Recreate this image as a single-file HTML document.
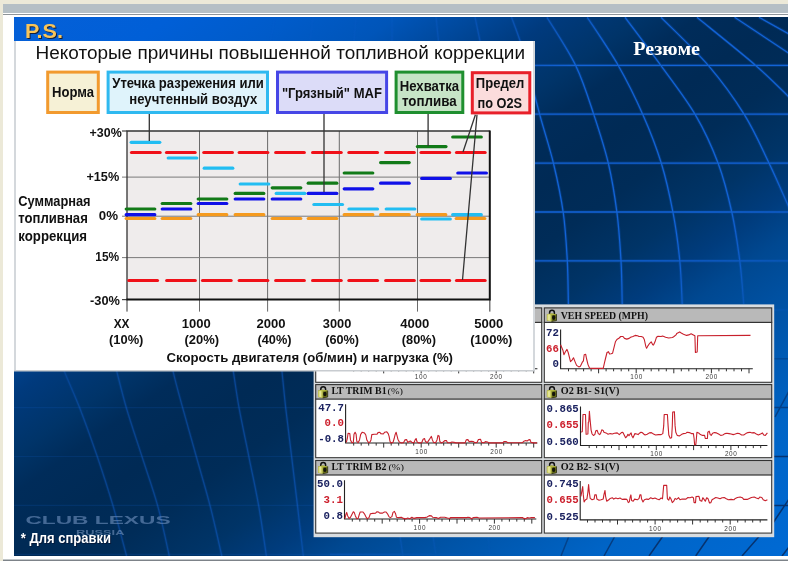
<!DOCTYPE html>
<html lang="ru"><head><meta charset="utf-8"><title>P.S.</title>
<style>html,body{margin:0;padding:0;background:#ece9d8;overflow:hidden}body{width:788px;height:561px;position:relative}</style></head>
<body>
<svg width="788" height="561" viewBox="0 0 788 561" style="position:absolute;left:0;top:0">
<rect x="0" y="0" width="788" height="561" fill="#ece9d8"/>
<rect x="3" y="4" width="785" height="9" fill="#b5bfc5"/>
<rect x="3" y="13" width="785" height="548" fill="#ffffff"/>
<rect x="3" y="14" width="785" height="1" fill="#8e9499"/>
<rect x="3" y="559" width="785" height="1" fill="#c0c5c8"/>
<rect x="3" y="560" width="785" height="1" fill="#7d8389"/>
<defs>
<linearGradient id="bg" gradientUnits="userSpaceOnUse" x1="14" y1="17" x2="519.2" y2="742.4"><stop offset="0.0000" stop-color="#0560d8"/><stop offset="0.1018" stop-color="#005fd7"/><stop offset="0.1810" stop-color="#005bc9"/><stop offset="0.2477" stop-color="#0055b9"/><stop offset="0.2998" stop-color="#00489b"/><stop offset="0.3507" stop-color="#003a7d"/><stop offset="0.4061" stop-color="#003469"/><stop offset="0.4423" stop-color="#002c5a"/><stop offset="0.4977" stop-color="#002a55"/><stop offset="0.5543" stop-color="#002c58"/><stop offset="0.6165" stop-color="#003467"/><stop offset="0.6640" stop-color="#003c7d"/><stop offset="0.7036" stop-color="#004891"/><stop offset="0.7805" stop-color="#0055aa"/><stop offset="0.8744" stop-color="#0064c6"/><stop offset="0.9842" stop-color="#0069d2"/><stop offset="1.0000" stop-color="#006ad4"/></linearGradient>
<linearGradient id="lm" gradientUnits="userSpaceOnUse" x1="14" y1="17" x2="519.2" y2="742.4"><stop offset="0.0000" stop-color="#fff" stop-opacity="0.1"/><stop offset="0.2262" stop-color="#fff" stop-opacity="0.15"/><stop offset="0.3394" stop-color="#fff" stop-opacity="0.6"/><stop offset="0.4072" stop-color="#fff" stop-opacity="1"/><stop offset="0.6335" stop-color="#fff" stop-opacity="1"/><stop offset="0.7014" stop-color="#fff" stop-opacity="0.75"/><stop offset="0.7692" stop-color="#fff" stop-opacity="0.2"/><stop offset="0.8145" stop-color="#fff" stop-opacity="0"/><stop offset="1.0000" stop-color="#fff" stop-opacity="0"/></linearGradient>
<linearGradient id="dm" gradientUnits="userSpaceOnUse" x1="14" y1="17" x2="519.2" y2="742.4"><stop offset="0.0000" stop-color="#fff" stop-opacity="0"/><stop offset="0.7692" stop-color="#fff" stop-opacity="0"/><stop offset="0.8371" stop-color="#fff" stop-opacity="0.6"/><stop offset="0.9050" stop-color="#fff" stop-opacity="1"/><stop offset="1.0000" stop-color="#fff" stop-opacity="1"/></linearGradient>
<linearGradient id="lf" gradientUnits="userSpaceOnUse" x1="14" x2="540" y1="0" y2="0"><stop offset="0" stop-color="#fff" stop-opacity="0.4"/><stop offset="0.55" stop-color="#fff" stop-opacity="0.5"/><stop offset="1" stop-color="#fff" stop-opacity="1"/></linearGradient>
<mask id="mk1" maskUnits="userSpaceOnUse" x="0" y="0" width="788" height="561"><rect x="0" y="0" width="788" height="561" fill="url(#lm)"/></mask>
<mask id="mk2" maskUnits="userSpaceOnUse" x="0" y="0" width="788" height="561"><rect x="0" y="0" width="788" height="561" fill="url(#lf)"/></mask>
<mask id="mk3" maskUnits="userSpaceOnUse" x="0" y="0" width="788" height="561"><rect x="0" y="0" width="788" height="561" fill="url(#dm)"/></mask>
<linearGradient id="ll" gradientUnits="userSpaceOnUse" x1="14" x2="314" y1="0" y2="0"><stop offset="0" stop-color="#1a55b0" stop-opacity="0.3"/><stop offset="0.6" stop-color="#1a55b0" stop-opacity="0.2"/><stop offset="1" stop-color="#1a55b0" stop-opacity="0"/></linearGradient>
<clipPath id="slide"><rect x="14" y="17" width="774" height="539"/></clipPath>
<linearGradient id="tb" x1="0" x2="1" y1="0" y2="0">
<stop offset="0" stop-color="#0a5ed2"/><stop offset="0.5" stop-color="#0a5bcc"/><stop offset="0.7" stop-color="#0a56c4" stop-opacity="0.95"/><stop offset="0.82" stop-color="#0a4cb0" stop-opacity="0.7"/><stop offset="0.93" stop-color="#083f94" stop-opacity="0.3"/><stop offset="1" stop-color="#002a5c" stop-opacity="0"/>
</linearGradient>
</defs>
<rect x="14" y="17" width="774" height="539" fill="url(#bg)"/>
<g clip-path="url(#slide)"><path d="M14 65.3H330M14 114.2H330M14 163.1H330M14 212.0H330M14 260.9H330M14 309.8H330M14 358.7H330M14 407.6H330M14 456.5H330M14 505.4H330M14 554.3H330" fill="none" stroke="#1263d6" stroke-width="1.2" opacity="0.16"/><g mask="url(#mk2)"><g mask="url(#mk1)"><path d="M330 65.3H788M330 114.2H788M330 163.1H788M330 212.0H788M330 260.9H788M330 309.8H788M330 358.7H788M330 407.6H788M330 456.5H788M330 505.4H788M330 554.3H788M511.4 17.0C512.8 20.9 517.4 32.6 520.0 40.7C522.6 48.8 523.7 53.3 527.0 65.7C530.3 78.1 535.4 98.6 539.8 114.9C544.2 131.2 549.6 147.2 553.5 163.5C557.4 179.8 561.0 196.8 563.3 213.0C565.6 229.2 566.4 245.6 567.3 260.8C568.1 276.0 568.2 296.8 568.4 304.0M547.0 17.3C551.8 25.4 568.0 49.4 575.8 65.7C583.6 82.0 588.5 98.6 593.9 114.9C599.3 131.2 604.5 147.2 608.4 163.5C612.2 179.8 614.9 196.8 617.0 213.0C619.1 229.2 620.1 245.6 621.0 260.8C621.9 276.0 622.0 296.8 622.2 304.0M587.3 17.3C592.5 25.4 609.1 49.4 618.4 65.7C627.7 82.0 635.8 98.6 643.0 114.9C650.2 131.2 656.4 147.2 661.4 163.5C666.4 179.8 670.0 196.8 673.1 213.0C676.2 229.2 678.3 245.6 679.8 260.8C681.3 276.0 681.8 296.8 682.2 304.0M625.0 17.3C631.0 25.4 649.3 49.4 661.0 65.7C672.7 82.0 685.9 98.6 695.4 114.9C704.9 131.2 712.1 147.2 718.2 163.5C724.3 179.8 728.4 196.8 732.0 213.0C735.6 229.2 737.8 245.6 739.8 260.8C741.8 276.0 743.1 296.8 743.7 304.0M661.0 17.3C668.9 25.4 694.6 49.4 708.5 65.7C722.4 82.0 734.4 98.6 744.5 114.9C754.6 131.2 761.6 147.7 769.2 163.5C776.8 179.3 786.5 202.2 790.0 210.0M697.0 17.3C706.8 25.4 740.5 52.2 756.0 65.7C771.5 79.2 784.3 92.6 790.0 98.0M734.6 17.3 L790.0 54.0M759.0 17.3 L790.0 34.5M475.0 17.0 L480.0 41.0M436.0 17.0 L438.5 41.0M392.0 17.0 L392.0 41.0M356.0 17.0 L354.0 41.0M313.0 17.0 L310.0 41.0M275.0 17.0 L270.5 41.0M50.0 335.0C52.4 341.1 59.5 359.5 64.5 371.8C69.5 384.1 74.5 394.4 80.0 408.7C85.5 422.9 92.0 441.1 97.5 457.3C103.0 473.5 108.2 489.4 113.0 505.8C117.8 522.2 124.3 547.6 126.6 556.0M108.0 335.0C109.5 341.1 113.8 359.5 116.9 371.8C120.0 384.1 122.4 394.4 126.6 408.7C130.8 422.9 137.0 441.1 142.2 457.3C147.4 473.5 153.2 489.4 157.7 505.8C162.2 522.2 167.4 547.6 169.3 556.0M166.0 335.0C167.2 341.1 170.4 359.5 173.2 371.8C176.0 384.1 179.0 394.4 182.9 408.7C186.8 422.9 192.0 441.1 196.5 457.3C201.0 473.5 205.9 489.4 210.1 505.8C214.3 522.2 219.9 547.6 221.8 556.0M228.0 335.0C228.9 341.1 231.5 359.5 233.4 371.8C235.3 384.1 236.6 394.4 239.2 408.7C241.8 422.9 245.8 441.1 249.0 457.3C252.2 473.5 255.8 489.4 258.7 505.8C261.6 522.2 265.1 547.6 266.4 556.0M278.0 335.0C278.7 341.1 280.7 359.5 282.0 371.8C283.3 384.1 284.2 394.4 285.8 408.7C287.4 422.9 289.8 441.1 291.7 457.3C293.6 473.5 295.6 489.4 297.5 505.8C299.4 522.2 302.3 547.6 303.3 556.0M400.0 536.0 L403.0 556.0M433.0 536.0 L436.0 556.0M488.0 536.0 L490.0 556.0M535.0 536.0 L534.0 556.0" fill="none" stroke="#1466dc" stroke-width="3.2" opacity="0.22"/><path d="M330 65.3H788M330 114.2H788M330 163.1H788M330 212.0H788M330 260.9H788M330 309.8H788M330 358.7H788M330 407.6H788M330 456.5H788M330 505.4H788M330 554.3H788M511.4 17.0C512.8 20.9 517.4 32.6 520.0 40.7C522.6 48.8 523.7 53.3 527.0 65.7C530.3 78.1 535.4 98.6 539.8 114.9C544.2 131.2 549.6 147.2 553.5 163.5C557.4 179.8 561.0 196.8 563.3 213.0C565.6 229.2 566.4 245.6 567.3 260.8C568.1 276.0 568.2 296.8 568.4 304.0M547.0 17.3C551.8 25.4 568.0 49.4 575.8 65.7C583.6 82.0 588.5 98.6 593.9 114.9C599.3 131.2 604.5 147.2 608.4 163.5C612.2 179.8 614.9 196.8 617.0 213.0C619.1 229.2 620.1 245.6 621.0 260.8C621.9 276.0 622.0 296.8 622.2 304.0M587.3 17.3C592.5 25.4 609.1 49.4 618.4 65.7C627.7 82.0 635.8 98.6 643.0 114.9C650.2 131.2 656.4 147.2 661.4 163.5C666.4 179.8 670.0 196.8 673.1 213.0C676.2 229.2 678.3 245.6 679.8 260.8C681.3 276.0 681.8 296.8 682.2 304.0M625.0 17.3C631.0 25.4 649.3 49.4 661.0 65.7C672.7 82.0 685.9 98.6 695.4 114.9C704.9 131.2 712.1 147.2 718.2 163.5C724.3 179.8 728.4 196.8 732.0 213.0C735.6 229.2 737.8 245.6 739.8 260.8C741.8 276.0 743.1 296.8 743.7 304.0M661.0 17.3C668.9 25.4 694.6 49.4 708.5 65.7C722.4 82.0 734.4 98.6 744.5 114.9C754.6 131.2 761.6 147.7 769.2 163.5C776.8 179.3 786.5 202.2 790.0 210.0M697.0 17.3C706.8 25.4 740.5 52.2 756.0 65.7C771.5 79.2 784.3 92.6 790.0 98.0M734.6 17.3 L790.0 54.0M759.0 17.3 L790.0 34.5M475.0 17.0 L480.0 41.0M436.0 17.0 L438.5 41.0M392.0 17.0 L392.0 41.0M356.0 17.0 L354.0 41.0M313.0 17.0 L310.0 41.0M275.0 17.0 L270.5 41.0M50.0 335.0C52.4 341.1 59.5 359.5 64.5 371.8C69.5 384.1 74.5 394.4 80.0 408.7C85.5 422.9 92.0 441.1 97.5 457.3C103.0 473.5 108.2 489.4 113.0 505.8C117.8 522.2 124.3 547.6 126.6 556.0M108.0 335.0C109.5 341.1 113.8 359.5 116.9 371.8C120.0 384.1 122.4 394.4 126.6 408.7C130.8 422.9 137.0 441.1 142.2 457.3C147.4 473.5 153.2 489.4 157.7 505.8C162.2 522.2 167.4 547.6 169.3 556.0M166.0 335.0C167.2 341.1 170.4 359.5 173.2 371.8C176.0 384.1 179.0 394.4 182.9 408.7C186.8 422.9 192.0 441.1 196.5 457.3C201.0 473.5 205.9 489.4 210.1 505.8C214.3 522.2 219.9 547.6 221.8 556.0M228.0 335.0C228.9 341.1 231.5 359.5 233.4 371.8C235.3 384.1 236.6 394.4 239.2 408.7C241.8 422.9 245.8 441.1 249.0 457.3C252.2 473.5 255.8 489.4 258.7 505.8C261.6 522.2 265.1 547.6 266.4 556.0M278.0 335.0C278.7 341.1 280.7 359.5 282.0 371.8C283.3 384.1 284.2 394.4 285.8 408.7C287.4 422.9 289.8 441.1 291.7 457.3C293.6 473.5 295.6 489.4 297.5 505.8C299.4 522.2 302.3 547.6 303.3 556.0M400.0 536.0 L403.0 556.0M433.0 536.0 L436.0 556.0M488.0 536.0 L490.0 556.0M535.0 536.0 L534.0 556.0" fill="none" stroke="#1263d6" stroke-width="1.3"/></g></g>
<g mask="url(#mk3)"><path d="M500 65.3H788M500 114.2H788M500 163.1H788M500 212.0H788M500 260.9H788M500 309.8H788M500 358.7H788M500 407.6H788M500 456.5H788M500 505.4H788M569.0 536.0 L561.0 556.0M615.0 536.0 L604.0 556.0M663.0 536.0 L649.0 556.0M709.5 536.0 L695.7 556.0M759.5 536.0 L742.0 556.0M789.0 547.0 L782.0 556.0M789.0 391.0 L775.0 417.0M789.0 499.0 L773.0 523.0" fill="none" stroke="#06336f" stroke-width="1.5"/></g></g>
<text x="25.9" y="38.9" font-family='"Liberation Sans", sans-serif' font-size="20.5" font-weight="bold" fill="#15203a" textLength="38.0" lengthAdjust="spacingAndGlyphs" >P.S.</text>
<text x="24.9" y="37.8" font-family='"Liberation Sans", sans-serif' font-size="20.5" font-weight="bold" fill="#f8c45a" textLength="38.0" lengthAdjust="spacingAndGlyphs" >P.S.</text>
<text x="633.3" y="55.4" font-family='"Liberation Serif", serif' font-size="19" font-weight="bold" fill="#ffffff" textLength="66.7" lengthAdjust="spacingAndGlyphs" >Резюме</text>
<rect x="313.6" y="304.4" width="460.6" height="232.8" fill="#d9dde0"/>
<rect x="315.2" y="307.4" width="227.00000000000006" height="75.40000000000003" fill="#ffffff"/>
<rect x="315.2" y="307.4" width="227.00000000000006" height="15" fill="#b9b9b9"/>
<rect x="315.2" y="321.79999999999995" width="227.00000000000006" height="1.2" fill="#333"/>
<rect x="315.7" y="307.9" width="226.00000000000006" height="74.40000000000003" fill="none" stroke="#333" stroke-width="1.1"/>
<rect x="315.2" y="384.1" width="227.00000000000006" height="74.09999999999997" fill="#ffffff"/>
<rect x="315.2" y="384.1" width="227.00000000000006" height="15" fill="#b9b9b9"/>
<rect x="315.2" y="398.5" width="227.00000000000006" height="1.2" fill="#333"/>
<rect x="315.7" y="384.6" width="226.00000000000006" height="73.09999999999997" fill="none" stroke="#333" stroke-width="1.1"/>
<rect x="315.2" y="460" width="227.00000000000006" height="73.60000000000002" fill="#ffffff"/>
<rect x="315.2" y="460" width="227.00000000000006" height="15" fill="#b9b9b9"/>
<rect x="315.2" y="474.4" width="227.00000000000006" height="1.2" fill="#333"/>
<rect x="315.7" y="460.5" width="226.00000000000006" height="72.60000000000002" fill="none" stroke="#333" stroke-width="1.1"/>
<rect x="543.8" y="307.4" width="228.4000000000001" height="75.40000000000003" fill="#ffffff"/>
<rect x="543.8" y="307.4" width="228.4000000000001" height="15" fill="#b9b9b9"/>
<rect x="543.8" y="321.79999999999995" width="228.4000000000001" height="1.2" fill="#333"/>
<rect x="544.3" y="307.9" width="227.4000000000001" height="74.40000000000003" fill="none" stroke="#333" stroke-width="1.1"/>
<rect x="543.8" y="384.1" width="228.4000000000001" height="74.09999999999997" fill="#ffffff"/>
<rect x="543.8" y="384.1" width="228.4000000000001" height="15" fill="#b9b9b9"/>
<rect x="543.8" y="398.5" width="228.4000000000001" height="1.2" fill="#333"/>
<rect x="544.3" y="384.6" width="227.4000000000001" height="73.09999999999997" fill="none" stroke="#333" stroke-width="1.1"/>
<rect x="543.8" y="460" width="228.4000000000001" height="73.60000000000002" fill="#ffffff"/>
<rect x="543.8" y="460" width="228.4000000000001" height="15" fill="#b9b9b9"/>
<rect x="543.8" y="474.4" width="228.4000000000001" height="1.2" fill="#333"/>
<rect x="544.3" y="460.5" width="227.4000000000001" height="72.60000000000002" fill="none" stroke="#333" stroke-width="1.1"/>
<path d="M345.6 330V368.8H537.4" fill="none" stroke="#222" stroke-width="1.1"/><path d="M353.7 368.8v2.6M361.2 368.8v2.6M368.7 368.8v2.6M376.2 368.8v2.6M383.7 368.8v4.6M391.2 368.8v2.6M398.7 368.8v2.6M406.2 368.8v2.6M413.7 368.8v2.6M421.2 368.8v4.6M428.7 368.8v2.6M436.2 368.8v2.6M443.7 368.8v2.6M451.2 368.8v2.6M458.7 368.8v4.6M466.2 368.8v2.6M473.7 368.8v2.6M481.2 368.8v2.6M488.7 368.8v2.6M496.2 368.8v4.6M503.7 368.8v2.6M511.2 368.8v2.6M518.7 368.8v2.6M526.2 368.8v2.6M533.7 368.8v4.6" stroke="#333" stroke-width="1" fill="none"/>
<text x="420.7" y="379.3" text-anchor="middle" font-family='"Liberation Sans", sans-serif' font-size="6.4" fill="#3a3a3a" textLength="12" lengthAdjust="spacing">100</text>
<text x="496.0" y="379.3" text-anchor="middle" font-family='"Liberation Sans", sans-serif' font-size="6.4" fill="#3a3a3a" textLength="12" lengthAdjust="spacing">200</text>
<g transform="translate(546.9,309.6)"><path d="M2.7 5V3.2a2.4 2.5 0 0 1 4.8 0V5" fill="none" stroke="#111" stroke-width="1.5"/><path d="M0 4.6L4.6 3.8L9.6 4.6V11L4.6 11.9L0 11Z" fill="#6c7218"/><path d="M0 4.6L4.6 3.8V11.9L0 11Z" fill="#cccd62"/><path d="M1.2 5.2L3 4.9V11L1.2 10.7Z" fill="#e6e79a"/><path d="M4.6 3.8L9.6 4.6L6.2 5.6L2.4 4.9Z" fill="#b4b840"/><ellipse cx="6.8" cy="8" rx="1.7" ry="2.3" fill="#14140a"/><path d="M4.6 11.9L9.6 11V4.6" fill="none" stroke="#2a2a10" stroke-width="0.8"/></g>
<text x="560.8" y="318.6" font-family='"Liberation Serif", serif' font-size="10.4" font-weight="bold" fill="#111" textLength="87.1" lengthAdjust="spacingAndGlyphs" >VEH SPEED (MPH)</text>
<g transform="translate(318.1,386.0)"><path d="M2.7 5V3.2a2.4 2.5 0 0 1 4.8 0V5" fill="none" stroke="#111" stroke-width="1.5"/><path d="M0 4.6L4.6 3.8L9.6 4.6V11L4.6 11.9L0 11Z" fill="#6c7218"/><path d="M0 4.6L4.6 3.8V11.9L0 11Z" fill="#cccd62"/><path d="M1.2 5.2L3 4.9V11L1.2 10.7Z" fill="#e6e79a"/><path d="M4.6 3.8L9.6 4.6L6.2 5.6L2.4 4.9Z" fill="#b4b840"/><ellipse cx="6.8" cy="8" rx="1.7" ry="2.3" fill="#14140a"/><path d="M4.6 11.9L9.6 11V4.6" fill="none" stroke="#2a2a10" stroke-width="0.8"/></g>
<text x="331.4" y="393.8" font-family='"Liberation Serif", serif' font-size="10.4" font-weight="bold" fill="#111" textLength="55.2" lengthAdjust="spacingAndGlyphs" >LT TRIM B1</text>
<text x="387.6" y="393.8" font-family='"Liberation Serif", serif' font-size="9" font-weight="normal" fill="#111" textLength="15.4" lengthAdjust="spacingAndGlyphs" >(%)</text>
<g transform="translate(546.9,386.0)"><path d="M2.7 5V3.2a2.4 2.5 0 0 1 4.8 0V5" fill="none" stroke="#111" stroke-width="1.5"/><path d="M0 4.6L4.6 3.8L9.6 4.6V11L4.6 11.9L0 11Z" fill="#6c7218"/><path d="M0 4.6L4.6 3.8V11.9L0 11Z" fill="#cccd62"/><path d="M1.2 5.2L3 4.9V11L1.2 10.7Z" fill="#e6e79a"/><path d="M4.6 3.8L9.6 4.6L6.2 5.6L2.4 4.9Z" fill="#b4b840"/><ellipse cx="6.8" cy="8" rx="1.7" ry="2.3" fill="#14140a"/><path d="M4.6 11.9L9.6 11V4.6" fill="none" stroke="#2a2a10" stroke-width="0.8"/></g>
<text x="560.8" y="393.8" font-family='"Liberation Serif", serif' font-size="10.4" font-weight="bold" fill="#111" textLength="58.5" lengthAdjust="spacingAndGlyphs" >O2 B1- S1(V)</text>
<g transform="translate(318.1,461.8)"><path d="M2.7 5V3.2a2.4 2.5 0 0 1 4.8 0V5" fill="none" stroke="#111" stroke-width="1.5"/><path d="M0 4.6L4.6 3.8L9.6 4.6V11L4.6 11.9L0 11Z" fill="#6c7218"/><path d="M0 4.6L4.6 3.8V11.9L0 11Z" fill="#cccd62"/><path d="M1.2 5.2L3 4.9V11L1.2 10.7Z" fill="#e6e79a"/><path d="M4.6 3.8L9.6 4.6L6.2 5.6L2.4 4.9Z" fill="#b4b840"/><ellipse cx="6.8" cy="8" rx="1.7" ry="2.3" fill="#14140a"/><path d="M4.6 11.9L9.6 11V4.6" fill="none" stroke="#2a2a10" stroke-width="0.8"/></g>
<text x="331.6" y="469.7" font-family='"Liberation Serif", serif' font-size="10.4" font-weight="bold" fill="#111" textLength="54.8" lengthAdjust="spacingAndGlyphs" >LT TRIM B2</text>
<text x="388.4" y="469.7" font-family='"Liberation Serif", serif' font-size="9" font-weight="normal" fill="#111" textLength="15.6" lengthAdjust="spacingAndGlyphs" >(%)</text>
<g transform="translate(546.9,461.8)"><path d="M2.7 5V3.2a2.4 2.5 0 0 1 4.8 0V5" fill="none" stroke="#111" stroke-width="1.5"/><path d="M0 4.6L4.6 3.8L9.6 4.6V11L4.6 11.9L0 11Z" fill="#6c7218"/><path d="M0 4.6L4.6 3.8V11.9L0 11Z" fill="#cccd62"/><path d="M1.2 5.2L3 4.9V11L1.2 10.7Z" fill="#e6e79a"/><path d="M4.6 3.8L9.6 4.6L6.2 5.6L2.4 4.9Z" fill="#b4b840"/><ellipse cx="6.8" cy="8" rx="1.7" ry="2.3" fill="#14140a"/><path d="M4.6 11.9L9.6 11V4.6" fill="none" stroke="#2a2a10" stroke-width="0.8"/></g>
<text x="560.8" y="469.7" font-family='"Liberation Serif", serif' font-size="10.4" font-weight="bold" fill="#111" textLength="58.5" lengthAdjust="spacingAndGlyphs" >O2 B2- S1(V)</text>
<path d="M560.6 329.6V368.7H752.8" fill="none" stroke="#222" stroke-width="1.1"/>
<path d="M568.5 368.7v2.6M576.0 368.7v2.6M583.6 368.7v2.6M591.1 368.7v2.6M598.6 368.7v4.6M606.1 368.7v2.6M613.6 368.7v2.6M621.2 368.7v2.6M628.7 368.7v2.6M636.2 368.7v4.6M643.7 368.7v2.6M651.2 368.7v2.6M658.8 368.7v2.6M666.3 368.7v2.6M673.8 368.7v4.6M681.3 368.7v2.6M688.8 368.7v2.6M696.4 368.7v2.6M703.9 368.7v2.6M711.4 368.7v4.6M718.9 368.7v2.6M726.4 368.7v2.6M734.0 368.7v2.6M741.5 368.7v2.6M749.0 368.7v4.6" stroke="#333" stroke-width="1" fill="none"/>
<text x="636.2" y="379.3" text-anchor="middle" font-family='"Liberation Sans", sans-serif' font-size="6.4" fill="#3a3a3a" textLength="12" lengthAdjust="spacing">100</text>
<text x="711.4" y="379.3" text-anchor="middle" font-family='"Liberation Sans", sans-serif' font-size="6.4" fill="#3a3a3a" textLength="12" lengthAdjust="spacing">200</text>
<text x="546.1" y="336.4" font-family='"Liberation Mono", monospace' font-size="10.8" font-weight="bold" fill="#1b2260" textLength="12.9" lengthAdjust="spacingAndGlyphs">72</text>
<text x="546.1" y="351.8" font-family='"Liberation Mono", monospace' font-size="10.8" font-weight="bold" fill="#cc1f2c" textLength="12.9" lengthAdjust="spacingAndGlyphs">66</text>
<text x="552.5" y="367.0" font-family='"Liberation Mono", monospace' font-size="10.8" font-weight="bold" fill="#1b2260" textLength="6.5" lengthAdjust="spacingAndGlyphs">0</text>
<polyline points="560.6,344.8 562.9,350.2 563.9,354.7 565.4,351.7 567.0,349.4 568.2,352.5 570.5,361.6 572.0,360.1 573.5,357.8 575.0,361.6 576.6,365.4 578.8,366.9 580.4,366.2 582.2,362.4 583.4,360.8 584.2,354.7 585.7,354.3 586.5,358.5 588.0,364.6 589.5,368.0 591.8,368.4 603.2,368.4 604.4,363.1 605.5,358.5 607.0,352.5 608.5,351.7 609.6,354.0 611.1,353.7 612.6,353.2 613.9,347.9 615.4,341.8 616.9,339.5 619.2,338.0 620.7,336.5 623.0,336.5 624.5,338.4 626.8,339.1 629.1,338.4 630.6,337.2 632.9,336.5 635.2,335.4 637.5,335.7 639.0,336.5 641.3,336.5 643.1,337.2 644.3,339.5 645.8,346.4 646.6,348.2 648.1,345.6 649.7,343.3 651.2,341.8 652.7,344.8 653.5,345.1 655.0,341.8 656.5,337.2 658.0,336.2 661.1,336.5 662.6,336.0 665.6,337.2 668.7,338.0 672.5,337.5 674.0,336.5 676.0,334.9 676.7,333.4 679.7,331.9 681.2,333.0 683.5,334.2 686.6,335.4 688.8,334.9 691.1,333.7 693.4,334.9 694.9,335.7 695.4,352.5 697.2,352.0 697.7,335.7 750.5,335.4" fill="none" stroke="#c8202c" stroke-width="1.1" stroke-linejoin="round"/>
<path d="M580.5 406.4V445.5H767.4" fill="none" stroke="#222" stroke-width="1.1"/>
<path d="M589.2 445.5v2.6M596.6 445.5v2.6M604.1 445.5v2.6M611.5 445.5v2.6M619.0 445.5v4.6M626.5 445.5v2.6M633.9 445.5v2.6M641.4 445.5v2.6M648.8 445.5v2.6M656.3 445.5v4.6M663.8 445.5v2.6M671.2 445.5v2.6M678.7 445.5v2.6M686.1 445.5v2.6M693.6 445.5v4.6M701.1 445.5v2.6M708.5 445.5v2.6M716.0 445.5v2.6M723.4 445.5v2.6M730.9 445.5v4.6M738.4 445.5v2.6M745.8 445.5v2.6M753.3 445.5v2.6M760.7 445.5v2.6" stroke="#333" stroke-width="1" fill="none"/>
<text x="656.3" y="455.9" text-anchor="middle" font-family='"Liberation Sans", sans-serif' font-size="6.4" fill="#3a3a3a" textLength="12" lengthAdjust="spacing">100</text>
<text x="730.9" y="455.9" text-anchor="middle" font-family='"Liberation Sans", sans-serif' font-size="6.4" fill="#3a3a3a" textLength="12" lengthAdjust="spacing">200</text>
<text x="546.6" y="412.0" font-family='"Liberation Mono", monospace' font-size="10.8" font-weight="bold" fill="#1b2260" textLength="32.2" lengthAdjust="spacingAndGlyphs">0.865</text>
<text x="546.6" y="428.0" font-family='"Liberation Mono", monospace' font-size="10.8" font-weight="bold" fill="#cc1f2c" textLength="32.2" lengthAdjust="spacingAndGlyphs">0.655</text>
<text x="546.6" y="444.5" font-family='"Liberation Mono", monospace' font-size="10.8" font-weight="bold" fill="#1b2260" textLength="32.2" lengthAdjust="spacingAndGlyphs">0.560</text>
<polyline points="581.3,432.2 582.3,431.5 583.0,414.5 585.5,414.5 586.1,434.3 587.9,434.0 588.3,422.4 588.8,421.7 589.4,411.3 590.0,418.9 591.1,430.1 592.1,434.0 593.4,435.4 594.8,434.6 595.8,430.8 597.2,430.4 598.3,433.6 599.7,434.6 600.8,432.9 601.8,429.8 603.2,430.4 603.9,432.2 606.0,432.9 608.1,434.3 610.2,433.6 612.3,434.0 614.4,433.2 617.2,432.9 619.3,434.6 621.4,432.6 622.8,432.2 624.2,435.0 625.6,437.8 626.9,436.4 627.9,434.3 629.0,435.7 630.4,433.6 631.1,432.9 631.8,435.7 633.0,437.8 633.9,435.7 634.9,433.6 636.7,434.0 638.1,434.6 639.5,433.2 640.9,432.2 642.3,432.6 643.7,434.0 645.1,435.0 647.2,434.3 649.3,432.9 651.4,432.6 653.5,434.0 655.6,435.0 658.4,434.6 661.1,434.6 662.8,433.6 663.7,425.9 664.2,414.5 667.4,414.5 668.1,425.9 668.8,435.0 670.2,438.2 671.6,437.8 672.3,425.9 672.7,412.0 674.4,411.7 675.1,425.9 675.8,432.2 677.2,435.4 679.3,436.0 681.4,434.6 683.5,433.6 686.0,433.2 687.2,432.2 689.3,432.6 691.4,433.6 693.4,433.6 694.1,438.5 694.6,444.8 695.8,444.8 696.4,438.5 696.9,432.2 698.6,432.9 700.4,434.6 702.5,435.4 704.6,435.4 705.3,438.5 707.4,438.5 707.8,432.2 709.2,431.2 710.2,434.6 711.2,435.4 712.6,433.2 714.4,432.6 716.5,432.9 718.6,434.0 720.7,435.4 722.8,435.0 724.9,433.6 726.9,433.2 729.0,433.6 731.1,434.0 733.2,434.6 735.3,434.0 737.4,433.2 739.5,433.6 741.6,435.0 743.7,435.0 745.8,433.6 747.9,432.6 750.0,432.2 752.1,432.9 754.2,432.6 756.3,434.0 758.4,435.0 760.5,434.0 762.5,432.9 763.7,435.0 765.3,435.4 767.4,432.9" fill="none" stroke="#c8202c" stroke-width="1.1" stroke-linejoin="round"/>
<path d="M580.2 481.0V519.9H767.4" fill="none" stroke="#222" stroke-width="1.1"/>
<path d="M587.5 519.9v2.6M595.0 519.9v2.6M602.5 519.9v2.6M610.0 519.9v2.6M617.5 519.9v4.6M625.1 519.9v2.6M632.6 519.9v2.6M640.1 519.9v2.6M647.6 519.9v2.6M655.1 519.9v4.6M662.6 519.9v2.6M670.1 519.9v2.6M677.6 519.9v2.6M685.1 519.9v2.6M692.6 519.9v4.6M700.2 519.9v2.6M707.7 519.9v2.6M715.2 519.9v2.6M722.7 519.9v2.6M730.2 519.9v4.6M737.7 519.9v2.6M745.2 519.9v2.6M752.7 519.9v2.6M760.2 519.9v2.6" stroke="#333" stroke-width="1" fill="none"/>
<text x="655.1" y="530.6" text-anchor="middle" font-family='"Liberation Sans", sans-serif' font-size="6.4" fill="#3a3a3a" textLength="12" lengthAdjust="spacing">100</text>
<text x="730.2" y="530.6" text-anchor="middle" font-family='"Liberation Sans", sans-serif' font-size="6.4" fill="#3a3a3a" textLength="12" lengthAdjust="spacing">200</text>
<text x="546.4" y="487.0" font-family='"Liberation Mono", monospace' font-size="10.8" font-weight="bold" fill="#1b2260" textLength="32.2" lengthAdjust="spacingAndGlyphs">0.745</text>
<text x="546.4" y="503.4" font-family='"Liberation Mono", monospace' font-size="10.8" font-weight="bold" fill="#cc1f2c" textLength="32.2" lengthAdjust="spacingAndGlyphs">0.655</text>
<text x="546.4" y="519.7" font-family='"Liberation Mono", monospace' font-size="10.8" font-weight="bold" fill="#1b2260" textLength="32.2" lengthAdjust="spacingAndGlyphs">0.525</text>
<polyline points="580.9,496.3 581.9,490.8 582.7,486.6 583.3,494.9 584.1,501.9 585.5,499.8 586.9,499.1 587.9,492.1 588.6,484.5 589.3,492.1 590.2,498.4 592.1,499.8 594.1,499.1 594.8,494.9 596.2,494.7 596.9,499.1 599.0,500.2 601.1,499.8 603.2,499.1 603.9,494.9 605.0,490.5 605.6,496.3 606.7,501.2 608.8,499.8 610.2,498.4 612.3,497.7 613.7,499.1 615.8,498.0 617.9,498.8 620.0,498.0 622.1,499.4 624.9,499.1 626.9,499.4 628.3,502.6 629.3,501.9 630.2,497.0 630.9,494.9 631.6,500.5 633.2,501.2 634.6,499.1 637.4,499.8 639.1,498.4 639.9,494.9 640.9,494.7 641.6,499.1 643.0,501.9 644.4,499.8 646.5,499.1 648.6,499.4 650.7,497.7 652.8,498.8 654.9,498.0 657.0,499.1 659.1,499.8 661.1,498.0 662.5,498.8 663.7,485.4 666.7,485.4 667.4,498.8 668.8,500.2 669.8,497.0 670.9,498.8 672.3,502.6 673.7,501.2 675.1,498.4 676.5,499.4 678.6,497.7 680.0,499.8 682.1,499.1 686.0,499.1 687.9,497.5 690.0,497.7 692.1,497.0 693.4,497.7 694.1,502.6 695.5,502.6 696.0,496.6 699.0,496.3 700.0,500.5 701.8,501.2 702.8,497.7 703.9,499.1 705.3,501.2 706.7,497.7 708.1,498.8 709.5,503.0 710.9,502.6 712.0,499.8 713.7,498.8 715.8,497.5 717.9,498.0 720.0,498.8 722.1,497.7 724.2,497.5 726.3,498.8 728.3,499.8 731.1,499.4 733.9,499.8 735.3,498.4 737.4,497.5 740.2,497.0 742.3,497.7 743.7,499.4 747.2,499.4 749.3,498.4 751.4,497.5 754.2,497.0 756.3,498.0 758.4,498.8 759.8,497.0 761.8,497.5 763.2,499.8 765.3,500.8 767.4,499.8" fill="none" stroke="#c8202c" stroke-width="1.1" stroke-linejoin="round"/>
<path d="M345.6 404.3V443.0H537.4" fill="none" stroke="#222" stroke-width="1.1"/>
<path d="M353.7 443.0v2.6M361.2 443.0v2.6M368.7 443.0v2.6M376.2 443.0v2.6M383.7 443.0v4.6M391.2 443.0v2.6M398.7 443.0v2.6M406.2 443.0v2.6M413.7 443.0v2.6M421.2 443.0v4.6M428.7 443.0v2.6M436.2 443.0v2.6M443.7 443.0v2.6M451.2 443.0v2.6M458.7 443.0v4.6M466.2 443.0v2.6M473.7 443.0v2.6M481.2 443.0v2.6M488.7 443.0v2.6M496.2 443.0v4.6M503.7 443.0v2.6M511.2 443.0v2.6M518.7 443.0v2.6M526.2 443.0v2.6M533.7 443.0v4.6" stroke="#333" stroke-width="1" fill="none"/>
<text x="421.2" y="453.8" text-anchor="middle" font-family='"Liberation Sans", sans-serif' font-size="6.4" fill="#3a3a3a" textLength="12" lengthAdjust="spacing">100</text>
<text x="496.2" y="453.8" text-anchor="middle" font-family='"Liberation Sans", sans-serif' font-size="6.4" fill="#3a3a3a" textLength="12" lengthAdjust="spacing">200</text>
<text x="318.2" y="411.0" font-family='"Liberation Mono", monospace' font-size="10.8" font-weight="bold" fill="#1b2260" textLength="25.8" lengthAdjust="spacingAndGlyphs">47.7</text>
<text x="324.6" y="426.3" font-family='"Liberation Mono", monospace' font-size="10.8" font-weight="bold" fill="#cc1f2c" textLength="19.4" lengthAdjust="spacingAndGlyphs">0.0</text>
<text x="318.2" y="441.9" font-family='"Liberation Mono", monospace' font-size="10.8" font-weight="bold" fill="#1b2260" textLength="25.8" lengthAdjust="spacingAndGlyphs">-0.8</text>
<polyline points="346.3,442.4 347.3,438.5 348.1,433.2 349.8,433.6 350.5,439.9 351.9,442.7 353.3,442.4 354.0,434.3 355.1,432.2 356.1,434.3 356.8,441.3 358.1,442.7 359.5,439.9 360.7,434.3 362.3,432.2 364.4,432.9 365.8,435.0 366.8,439.9 368.6,442.7 370.0,442.0 371.0,439.9 371.8,434.6 374.2,434.3 377.0,434.3 378.0,432.6 379.8,432.2 380.8,433.6 383.3,434.0 384.7,432.2 386.8,431.8 388.2,433.6 389.1,436.4 390.0,441.3 390.9,442.9 393.0,442.4 394.2,438.5 395.1,434.6 396.1,432.2 397.0,435.7 397.9,439.2 399.3,442.0 401.4,442.9 403.5,442.7 404.9,439.9 406.7,439.6 407.7,442.4 409.1,441.6 410.5,441.0 411.9,442.4 414.0,442.7 415.1,439.9 416.1,438.5 417.1,442.0 418.9,442.9 421.7,442.7 423.1,439.2 424.5,438.5 425.4,441.3 427.2,442.7 428.6,440.6 430.0,438.5 431.4,436.4 432.4,439.9 433.5,442.4 435.6,442.7 437.0,439.9 438.0,435.4 439.1,436.0 439.8,441.3 441.2,442.9 443.3,442.0 444.7,440.6 446.4,440.6 447.5,442.7 450.0,442.7 451.9,442.0 454.0,442.4 456.1,442.9 465.1,442.9 466.2,439.9 467.9,439.6 469.0,441.6 471.4,441.3 473.5,441.6 474.9,442.7 477.0,442.4 478.4,439.6 480.5,439.3 481.6,442.4 484.0,442.7 485.4,441.6 487.5,442.0 488.9,442.9 502.8,442.9 503.9,441.6 506.3,441.6 507.7,442.7 522.4,442.7 523.8,441.3 525.8,440.6 527.2,441.0 528.6,439.9 530.0,439.6 531.0,442.4 533.5,442.9 537.0,442.9" fill="none" stroke="#c8202c" stroke-width="1.1" stroke-linejoin="round"/>
<path d="M344.5 480.3V519.0H536.3" fill="none" stroke="#222" stroke-width="1.1"/>
<path d="M352.3 519.0v2.6M359.8 519.0v2.6M367.2 519.0v2.6M374.7 519.0v2.6M382.2 519.0v4.6M389.7 519.0v2.6M397.2 519.0v2.6M404.6 519.0v2.6M412.1 519.0v2.6M419.6 519.0v4.6M427.1 519.0v2.6M434.6 519.0v2.6M442.0 519.0v2.6M449.5 519.0v2.6M457.0 519.0v4.6M464.5 519.0v2.6M472.0 519.0v2.6M479.4 519.0v2.6M486.9 519.0v2.6M494.4 519.0v4.6M501.9 519.0v2.6M509.4 519.0v2.6M516.8 519.0v2.6M524.3 519.0v2.6M531.8 519.0v4.6" stroke="#333" stroke-width="1" fill="none"/>
<text x="419.6" y="529.9" text-anchor="middle" font-family='"Liberation Sans", sans-serif' font-size="6.4" fill="#3a3a3a" textLength="12" lengthAdjust="spacing">100</text>
<text x="494.4" y="529.9" text-anchor="middle" font-family='"Liberation Sans", sans-serif' font-size="6.4" fill="#3a3a3a" textLength="12" lengthAdjust="spacing">200</text>
<text x="317.1" y="486.6" font-family='"Liberation Mono", monospace' font-size="10.8" font-weight="bold" fill="#1b2260" textLength="25.8" lengthAdjust="spacingAndGlyphs">50.0</text>
<text x="323.5" y="502.7" font-family='"Liberation Mono", monospace' font-size="10.8" font-weight="bold" fill="#cc1f2c" textLength="19.4" lengthAdjust="spacingAndGlyphs">3.1</text>
<text x="323.5" y="518.7" font-family='"Liberation Mono", monospace' font-size="10.8" font-weight="bold" fill="#1b2260" textLength="19.4" lengthAdjust="spacingAndGlyphs">0.8</text>
<polyline points="344.9,518.7 345.9,514.5 346.7,512.4 347.7,515.9 349.1,518.4 350.5,517.3 351.9,514.5 353.3,511.7 354.2,512.4 355.4,515.9 356.8,518.7 358.1,518.4 359.3,514.5 360.2,512.0 363.0,512.0 364.4,513.8 365.8,516.6 367.2,518.7 369.0,517.6 370.4,513.8 372.8,513.4 375.6,513.1 377.0,511.7 378.4,512.0 379.8,513.1 382.6,513.1 384.4,512.0 386.1,512.0 387.5,513.8 388.9,516.6 390.3,517.6 391.9,516.6 393.0,512.4 394.4,511.4 395.6,513.8 396.5,517.3 398.6,517.6 401.4,517.3 403.5,518.4 405.6,518.9 407.7,518.0 409.8,518.7 411.9,517.3 414.0,518.4 416.8,517.6 421.0,517.6 425.1,517.6 427.2,517.0 429.3,515.6 431.4,515.9 432.8,517.3 436.3,517.6 438.4,518.4 440.5,517.3 444.7,517.3 447.5,518.0 450.0,518.4 450.5,517.6 466.5,517.6 467.9,517.3 470.0,517.6 471.4,518.7 473.5,517.6 477.0,517.3 479.1,518.0 522.4,517.6 523.8,518.4 525.8,518.7 527.2,517.6 529.3,518.0 531.4,517.6 534.9,517.6" fill="none" stroke="#c8202c" stroke-width="1.1" stroke-linejoin="round"/>
<rect x="14" y="41" width="521" height="330" fill="#ffffff"/>
<rect x="14" y="41" width="2" height="330" fill="#d4d8dc"/>
<rect x="533" y="41" width="2" height="330" fill="#d4d8dc"/>
<rect x="14" y="370" width="521" height="1.5" fill="#c8ccd0"/>
<text x="35.6" y="59.0" font-family='"Liberation Sans", sans-serif' font-size="17.5" font-weight="normal" fill="#111" textLength="489.4" lengthAdjust="spacingAndGlyphs" >Некоторые причины повышенной топливной коррекции</text>
<rect x="47.7" y="72.1" width="50.599999999999994" height="40.400000000000006" fill="#f6f1d6" stroke="#f29a2e" stroke-width="3"/>
<rect x="108.1" y="72.1" width="159.4" height="40.400000000000006" fill="#dff3fb" stroke="#2fb9f0" stroke-width="3"/>
<rect x="277.5" y="72.1" width="109.10000000000002" height="40.400000000000006" fill="#dcdcf8" stroke="#4646e6" stroke-width="3"/>
<rect x="396.1" y="72.1" width="66.69999999999999" height="40.400000000000006" fill="#c6e4c6" stroke="#1f8f2f" stroke-width="3"/>
<rect x="472.3" y="72.7" width="57.49999999999994" height="40.2" fill="#fbdcdc" stroke="#e8202a" stroke-width="3"/>
<text x="52.0" y="97.1" font-family='"Liberation Sans", sans-serif' font-size="14" font-weight="bold" fill="#111" textLength="42.0" lengthAdjust="spacingAndGlyphs" >Норма</text>
<text x="112.3" y="87.6" font-family='"Liberation Sans", sans-serif' font-size="14" font-weight="bold" fill="#111" textLength="151.5" lengthAdjust="spacingAndGlyphs" >Утечка разрежения или</text>
<text x="129.3" y="103.9" font-family='"Liberation Sans", sans-serif' font-size="14" font-weight="bold" fill="#111" textLength="128.1" lengthAdjust="spacingAndGlyphs" >неучтенный воздух</text>
<text x="281.9" y="97.8" font-family='"Liberation Sans", sans-serif' font-size="14" font-weight="bold" fill="#111" textLength="100.0" lengthAdjust="spacingAndGlyphs" >"Грязный" MAF</text>
<text x="399.7" y="90.5" font-family='"Liberation Sans", sans-serif' font-size="14" font-weight="bold" fill="#111" textLength="59.5" lengthAdjust="spacingAndGlyphs" >Нехватка</text>
<text x="402.0" y="106.3" font-family='"Liberation Sans", sans-serif' font-size="14" font-weight="bold" fill="#111" textLength="54.8" lengthAdjust="spacingAndGlyphs" >топлива</text>
<text x="475.8" y="88.4" font-family='"Liberation Sans", sans-serif' font-size="14" font-weight="bold" fill="#111" textLength="48.4" lengthAdjust="spacingAndGlyphs" >Предел</text>
<text x="477.5" y="107.7" font-family='"Liberation Sans", sans-serif' font-size="14" font-weight="bold" fill="#111" textLength="44.6" lengthAdjust="spacingAndGlyphs" >по O2S</text>
<rect x="127" y="131" width="362.8" height="168.60000000000002" fill="#efecec"/>
<rect x="199.0" y="131" width="1" height="180.60000000000002" fill="#6a6a6a"/>
<rect x="267.1" y="131" width="1" height="180.60000000000002" fill="#6a6a6a"/>
<rect x="338.8" y="131" width="1" height="180.60000000000002" fill="#6a6a6a"/>
<rect x="417.0" y="131" width="1" height="180.60000000000002" fill="#6a6a6a"/>
<rect x="126.4" y="299.6" width="1.2" height="12" fill="#555"/>
<rect x="489.2" y="299.6" width="1.2" height="12" fill="#555"/>
<rect x="122" y="176.6" width="367.8" height="1" fill="#7a7a7a"/>
<rect x="122" y="215.7" width="367.8" height="1" fill="#7a7a7a"/>
<rect x="122" y="257.1" width="367.8" height="1" fill="#7a7a7a"/>
<rect x="122" y="130.4" width="5" height="1.2" fill="#444"/>
<rect x="122" y="299.0" width="5" height="1.2" fill="#444"/>
<path d="M127 299.6V131H489.8" fill="none" stroke="#333" stroke-width="1.3"/>
<path d="M126.4 299.6H489.8V130.4" fill="none" stroke="#111" stroke-width="2"/>
<line x1="131.5" x2="160.1" y1="152.5" y2="152.5" stroke="#f01018" stroke-width="3.2" stroke-linecap="round"/>
<line x1="166.5" x2="195.1" y1="152.5" y2="152.5" stroke="#f01018" stroke-width="3.2" stroke-linecap="round"/>
<line x1="203.8" x2="232.4" y1="152.5" y2="152.5" stroke="#f01018" stroke-width="3.2" stroke-linecap="round"/>
<line x1="239.2" x2="267.8" y1="152.5" y2="152.5" stroke="#f01018" stroke-width="3.2" stroke-linecap="round"/>
<line x1="275.7" x2="304.3" y1="152.5" y2="152.5" stroke="#f01018" stroke-width="3.2" stroke-linecap="round"/>
<line x1="312.6" x2="341.2" y1="152.5" y2="152.5" stroke="#f01018" stroke-width="3.2" stroke-linecap="round"/>
<line x1="348.9" x2="377.5" y1="152.5" y2="152.5" stroke="#f01018" stroke-width="3.2" stroke-linecap="round"/>
<line x1="385.7" x2="414.3" y1="152.5" y2="152.5" stroke="#f01018" stroke-width="3.2" stroke-linecap="round"/>
<line x1="421.0" x2="449.6" y1="152.5" y2="152.5" stroke="#f01018" stroke-width="3.2" stroke-linecap="round"/>
<line x1="456.5" x2="485.1" y1="152.5" y2="152.5" stroke="#f01018" stroke-width="3.2" stroke-linecap="round"/>
<line x1="128.9" x2="157.5" y1="280.5" y2="280.5" stroke="#f01018" stroke-width="3.2" stroke-linecap="round"/>
<line x1="166.7" x2="195.3" y1="280.5" y2="280.5" stroke="#f01018" stroke-width="3.2" stroke-linecap="round"/>
<line x1="202.5" x2="231.1" y1="280.5" y2="280.5" stroke="#f01018" stroke-width="3.2" stroke-linecap="round"/>
<line x1="239.2" x2="267.8" y1="280.5" y2="280.5" stroke="#f01018" stroke-width="3.2" stroke-linecap="round"/>
<line x1="275.7" x2="304.3" y1="280.5" y2="280.5" stroke="#f01018" stroke-width="3.2" stroke-linecap="round"/>
<line x1="312.6" x2="341.2" y1="280.5" y2="280.5" stroke="#f01018" stroke-width="3.2" stroke-linecap="round"/>
<line x1="348.9" x2="377.5" y1="280.5" y2="280.5" stroke="#f01018" stroke-width="3.2" stroke-linecap="round"/>
<line x1="385.7" x2="414.3" y1="280.5" y2="280.5" stroke="#f01018" stroke-width="3.2" stroke-linecap="round"/>
<line x1="421.0" x2="449.6" y1="280.5" y2="280.5" stroke="#f01018" stroke-width="3.2" stroke-linecap="round"/>
<line x1="456.5" x2="485.1" y1="280.5" y2="280.5" stroke="#f01018" stroke-width="3.2" stroke-linecap="round"/>
<line x1="126.2" x2="154.8" y1="218.5" y2="218.5" stroke="#f59a1e" stroke-width="3.2" stroke-linecap="round"/>
<line x1="162.2" x2="190.8" y1="218.5" y2="218.5" stroke="#f59a1e" stroke-width="3.2" stroke-linecap="round"/>
<line x1="198.2" x2="226.8" y1="214.7" y2="214.7" stroke="#f59a1e" stroke-width="3.2" stroke-linecap="round"/>
<line x1="235.2" x2="263.8" y1="214.7" y2="214.7" stroke="#f59a1e" stroke-width="3.2" stroke-linecap="round"/>
<line x1="272.2" x2="300.8" y1="218.5" y2="218.5" stroke="#f59a1e" stroke-width="3.2" stroke-linecap="round"/>
<line x1="308.2" x2="336.8" y1="218.5" y2="218.5" stroke="#f59a1e" stroke-width="3.2" stroke-linecap="round"/>
<line x1="344.2" x2="372.8" y1="214.7" y2="214.7" stroke="#f59a1e" stroke-width="3.2" stroke-linecap="round"/>
<line x1="380.6" x2="409.2" y1="214.7" y2="214.7" stroke="#f59a1e" stroke-width="3.2" stroke-linecap="round"/>
<line x1="417.2" x2="445.8" y1="214.7" y2="214.7" stroke="#f59a1e" stroke-width="3.2" stroke-linecap="round"/>
<line x1="456.2" x2="484.8" y1="218.5" y2="218.5" stroke="#f59a1e" stroke-width="3.2" stroke-linecap="round"/>
<line x1="131.2" x2="159.8" y1="142.3" y2="142.3" stroke="#22bdf2" stroke-width="3.2" stroke-linecap="round"/>
<line x1="168.2" x2="196.8" y1="158.0" y2="158.0" stroke="#22bdf2" stroke-width="3.2" stroke-linecap="round"/>
<line x1="204.2" x2="232.8" y1="168.2" y2="168.2" stroke="#22bdf2" stroke-width="3.2" stroke-linecap="round"/>
<line x1="240.2" x2="268.8" y1="184.0" y2="184.0" stroke="#22bdf2" stroke-width="3.2" stroke-linecap="round"/>
<line x1="276.2" x2="304.8" y1="193.4" y2="193.4" stroke="#22bdf2" stroke-width="3.2" stroke-linecap="round"/>
<line x1="313.9" x2="342.5" y1="204.5" y2="204.5" stroke="#22bdf2" stroke-width="3.2" stroke-linecap="round"/>
<line x1="348.9" x2="377.5" y1="209.0" y2="209.0" stroke="#22bdf2" stroke-width="3.2" stroke-linecap="round"/>
<line x1="386.2" x2="414.8" y1="209.0" y2="209.0" stroke="#22bdf2" stroke-width="3.2" stroke-linecap="round"/>
<line x1="421.7" x2="450.3" y1="219.0" y2="219.0" stroke="#22bdf2" stroke-width="3.2" stroke-linecap="round"/>
<line x1="452.7" x2="481.3" y1="214.7" y2="214.7" stroke="#22bdf2" stroke-width="3.2" stroke-linecap="round"/>
<line x1="126.2" x2="154.8" y1="209.0" y2="209.0" stroke="#127a18" stroke-width="3.2" stroke-linecap="round"/>
<line x1="162.2" x2="190.8" y1="203.5" y2="203.5" stroke="#127a18" stroke-width="3.2" stroke-linecap="round"/>
<line x1="198.2" x2="226.8" y1="199.0" y2="199.0" stroke="#127a18" stroke-width="3.2" stroke-linecap="round"/>
<line x1="235.2" x2="263.8" y1="193.4" y2="193.4" stroke="#127a18" stroke-width="3.2" stroke-linecap="round"/>
<line x1="272.2" x2="300.8" y1="187.8" y2="187.8" stroke="#127a18" stroke-width="3.2" stroke-linecap="round"/>
<line x1="308.2" x2="336.8" y1="183.2" y2="183.2" stroke="#127a18" stroke-width="3.2" stroke-linecap="round"/>
<line x1="344.2" x2="372.8" y1="173.0" y2="173.0" stroke="#127a18" stroke-width="3.2" stroke-linecap="round"/>
<line x1="380.6" x2="409.2" y1="162.6" y2="162.6" stroke="#127a18" stroke-width="3.2" stroke-linecap="round"/>
<line x1="417.4" x2="446.0" y1="146.6" y2="146.6" stroke="#127a18" stroke-width="3.2" stroke-linecap="round"/>
<line x1="452.7" x2="481.3" y1="137.0" y2="137.0" stroke="#127a18" stroke-width="3.2" stroke-linecap="round"/>
<line x1="126.2" x2="154.8" y1="214.7" y2="214.7" stroke="#1010e8" stroke-width="3.2" stroke-linecap="round"/>
<line x1="162.2" x2="190.8" y1="209.0" y2="209.0" stroke="#1010e8" stroke-width="3.2" stroke-linecap="round"/>
<line x1="198.2" x2="226.8" y1="203.5" y2="203.5" stroke="#1010e8" stroke-width="3.2" stroke-linecap="round"/>
<line x1="235.2" x2="263.8" y1="199.0" y2="199.0" stroke="#1010e8" stroke-width="3.2" stroke-linecap="round"/>
<line x1="272.2" x2="300.8" y1="199.0" y2="199.0" stroke="#1010e8" stroke-width="3.2" stroke-linecap="round"/>
<line x1="308.2" x2="336.8" y1="193.4" y2="193.4" stroke="#1010e8" stroke-width="3.2" stroke-linecap="round"/>
<line x1="344.2" x2="372.8" y1="188.8" y2="188.8" stroke="#1010e8" stroke-width="3.2" stroke-linecap="round"/>
<line x1="380.6" x2="409.2" y1="183.2" y2="183.2" stroke="#1010e8" stroke-width="3.2" stroke-linecap="round"/>
<line x1="421.7" x2="450.3" y1="178.4" y2="178.4" stroke="#1010e8" stroke-width="3.2" stroke-linecap="round"/>
<line x1="457.8" x2="486.4" y1="173.0" y2="173.0" stroke="#1010e8" stroke-width="3.2" stroke-linecap="round"/>
<path d="M149.3 114V141 M324 114V192 M428.1 114V146 M475.4 114.8L463 152 M477 114.8L462.5 280" stroke="#333" stroke-width="1.3" fill="none"/>
<text x="89.6" y="136.8" font-family='"Liberation Sans", sans-serif' font-size="13.3" font-weight="bold" fill="#111" textLength="32.1" lengthAdjust="spacingAndGlyphs" >+30%</text>
<text x="86.4" y="181.3" font-family='"Liberation Sans", sans-serif' font-size="13.3" font-weight="bold" fill="#111" textLength="32.8" lengthAdjust="spacingAndGlyphs" >+15%</text>
<text x="98.8" y="219.8" font-family='"Liberation Sans", sans-serif' font-size="13.3" font-weight="bold" fill="#111" textLength="19.2" lengthAdjust="spacingAndGlyphs" >0%</text>
<text x="95.3" y="260.8" font-family='"Liberation Sans", sans-serif' font-size="13.3" font-weight="bold" fill="#111" textLength="23.9" lengthAdjust="spacingAndGlyphs" >15%</text>
<text x="90.0" y="305.4" font-family='"Liberation Sans", sans-serif' font-size="13.3" font-weight="bold" fill="#111" textLength="29.9" lengthAdjust="spacingAndGlyphs" >-30%</text>
<text x="18.3" y="206.3" font-family='"Liberation Sans", sans-serif' font-size="14.6" font-weight="bold" fill="#111" textLength="72.3" lengthAdjust="spacingAndGlyphs" >Суммарная</text>
<text x="18.3" y="223.4" font-family='"Liberation Sans", sans-serif' font-size="14.6" font-weight="bold" fill="#111" textLength="69.5" lengthAdjust="spacingAndGlyphs" >топливная</text>
<text x="18.3" y="240.5" font-family='"Liberation Sans", sans-serif' font-size="14.6" font-weight="bold" fill="#111" textLength="68.7" lengthAdjust="spacingAndGlyphs" >коррекция</text>
<text x="113.7" y="327.8" font-family='"Liberation Sans", sans-serif' font-size="13.3" font-weight="bold" fill="#111" textLength="15.8" lengthAdjust="spacingAndGlyphs" >XX</text>
<text x="109.0" y="343.6" font-family='"Liberation Sans", sans-serif' font-size="13.3" font-weight="bold" fill="#111" textLength="34.4" lengthAdjust="spacingAndGlyphs" >(10%)</text>
<text x="181.8" y="327.8" font-family='"Liberation Sans", sans-serif' font-size="13.3" font-weight="bold" fill="#111" textLength="29.0" lengthAdjust="spacingAndGlyphs" >1000</text>
<text x="184.4" y="343.6" font-family='"Liberation Sans", sans-serif' font-size="13.3" font-weight="bold" fill="#111" textLength="34.6" lengthAdjust="spacingAndGlyphs" >(20%)</text>
<text x="256.4" y="327.8" font-family='"Liberation Sans", sans-serif' font-size="13.3" font-weight="bold" fill="#111" textLength="29.1" lengthAdjust="spacingAndGlyphs" >2000</text>
<text x="257.5" y="343.6" font-family='"Liberation Sans", sans-serif' font-size="13.3" font-weight="bold" fill="#111" textLength="34.0" lengthAdjust="spacingAndGlyphs" >(40%)</text>
<text x="322.8" y="327.8" font-family='"Liberation Sans", sans-serif' font-size="13.3" font-weight="bold" fill="#111" textLength="28.5" lengthAdjust="spacingAndGlyphs" >3000</text>
<text x="325.3" y="343.6" font-family='"Liberation Sans", sans-serif' font-size="13.3" font-weight="bold" fill="#111" textLength="33.8" lengthAdjust="spacingAndGlyphs" >(60%)</text>
<text x="400.2" y="327.8" font-family='"Liberation Sans", sans-serif' font-size="13.3" font-weight="bold" fill="#111" textLength="29.2" lengthAdjust="spacingAndGlyphs" >4000</text>
<text x="401.8" y="343.6" font-family='"Liberation Sans", sans-serif' font-size="13.3" font-weight="bold" fill="#111" textLength="34.1" lengthAdjust="spacingAndGlyphs" >(80%)</text>
<text x="474.2" y="327.8" font-family='"Liberation Sans", sans-serif' font-size="13.3" font-weight="bold" fill="#111" textLength="29.2" lengthAdjust="spacingAndGlyphs" >5000</text>
<text x="470.2" y="343.6" font-family='"Liberation Sans", sans-serif' font-size="13.3" font-weight="bold" fill="#111" textLength="42.3" lengthAdjust="spacingAndGlyphs" >(100%)</text>
<text x="166.6" y="361.8" font-family='"Liberation Sans", sans-serif' font-size="13.3" font-weight="bold" fill="#111" textLength="286.4" lengthAdjust="spacingAndGlyphs" >Скорость двигателя (об/мин) и нагрузка (%)</text>
<text x="25.4" y="523.7" font-family='"Liberation Sans", sans-serif' font-size="11.6" font-weight="bold" fill="#6f8fbc" textLength="145.2" lengthAdjust="spacingAndGlyphs" opacity="0.62">CLUB LEXUS</text>
<text x="76.0" y="535.3" font-family='"Liberation Sans", sans-serif' font-size="7.4" font-weight="bold" fill="#7f9cc4" textLength="48.4" lengthAdjust="spacingAndGlyphs" opacity="0.55">RUSSIA</text>
<text x="21.8" y="544.0" font-family='"Liberation Sans", sans-serif' font-size="14" font-weight="bold" fill="#061a3a" textLength="90.2" lengthAdjust="spacingAndGlyphs" >* Для справки</text>
<text x="20.8" y="543.0" font-family='"Liberation Sans", sans-serif' font-size="14" font-weight="bold" fill="#fff" textLength="90.2" lengthAdjust="spacingAndGlyphs" >* Для справки</text>
</svg>
</body></html>
